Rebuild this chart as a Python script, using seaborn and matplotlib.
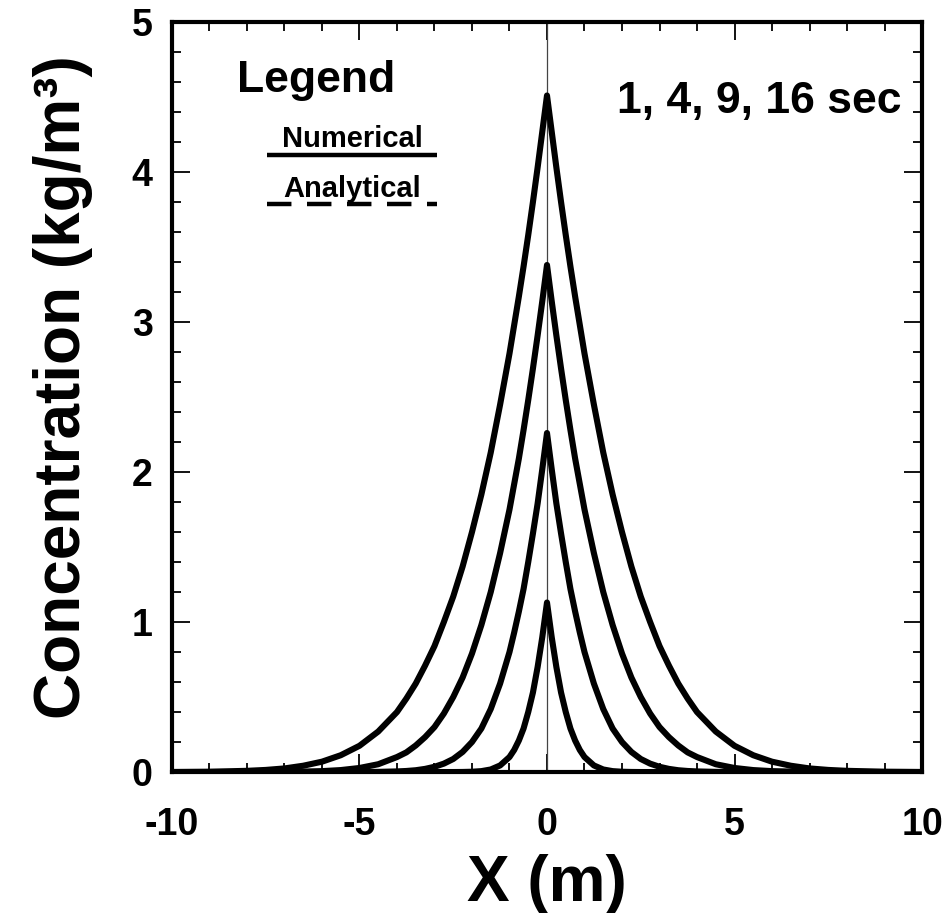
import numpy as np
import pandas as pd
import seaborn as sns
import matplotlib.pyplot as plt
from matplotlib.ticker import MultipleLocator

sns.set_style("ticks")
plt.rcParams["font.family"] = ["Liberation Sans", "DejaVu Sans"]
plt.rcParams["font.weight"] = "bold"
for key in ["text.color", "axes.labelcolor", "xtick.color", "ytick.color", "axes.edgecolor"]:
    plt.rcParams[key] = "black"

DPI = 100
FIGSIZE = (9.48, 9.13)

# half profiles (x >= 0), curves are symmetric about x = 0
x_half = [0, 0.125, 0.25, 0.375, 0.5, 0.625, 0.75, 0.875, 1, 1.25, 1.5, 1.75,
          2, 2.25, 2.5, 2.75, 3, 3.25, 3.5, 3.75, 4, 4.5, 5, 5.5, 6, 6.5, 7,
          7.5, 8, 9, 10]
c_t1 = [1.13, 0.90, 0.70, 0.53, 0.40, 0.29, 0.21, 0.147, 0.10, 0.044, 0.017, 0.006,
        0.002, 0.0005, 0, 0, 0, 0, 0, 0, 0, 0, 0, 0, 0, 0, 0,
        0, 0, 0, 0]
c_t4 = [2.26, 2.02, 1.79, 1.59, 1.40, 1.22, 1.07, 0.93, 0.80, 0.59, 0.42, 0.29,
        0.20, 0.134, 0.087, 0.056, 0.035, 0.021, 0.012, 0.007, 0.004, 0.001, 0, 0, 0, 0, 0,
        0, 0, 0, 0]
c_t9 = [3.38, 3.14, 2.91, 2.69, 2.48, 2.28, 2.09, 1.92, 1.75, 1.46, 1.20, 0.98,
        0.79, 0.63, 0.50, 0.39, 0.30, 0.233, 0.177, 0.131, 0.10, 0.052, 0.027, 0.013, 0.006, 0.003, 0.001,
        0, 0, 0, 0]
c_t16 = [4.51, 4.27, 4.03, 3.80, 3.58, 3.37, 3.17, 2.98, 2.79, 2.45, 2.13, 1.85,
         1.60, 1.37, 1.17, 1.00, 0.84, 0.71, 0.59, 0.49, 0.40, 0.27, 0.175, 0.112, 0.069, 0.042, 0.024,
         0.014, 0.008, 0.002, 0]
times = [1, 4, 9, 16]

rows = []
for t, c in zip(times, [c_t1, c_t4, c_t9, c_t16]):
    xs = [-v for v in x_half[::-1]] + x_half[1:]
    cs = c[::-1] + c[1:]
    for xv, cv in zip(xs, cs):
        rows.append({"x": xv, "conc": cv, "time": t})
df = pd.DataFrame(rows)

fig = plt.figure(figsize=FIGSIZE, dpi=DPI)
ax = fig.add_axes([0.1814, 0.1544, 0.7912, 0.8215])

ax.axvline(0, color="#444444", lw=0.9, zorder=1)
sns.lineplot(data=df, x="x", y="conc", units="time", estimator=None,
             color="black", lw=4.4, legend=False, ax=ax, zorder=3)

ax.set_xlim(-10, 10)
ax.set_ylim(0, 5)
ax.xaxis.set_major_locator(MultipleLocator(5))
ax.xaxis.set_minor_locator(MultipleLocator(1))
ax.yaxis.set_major_locator(MultipleLocator(1))
ax.yaxis.set_minor_locator(MultipleLocator(0.2))
ax.set_xticks([-10, -5, 0, 5, 10])
ax.set_xticklabels(["-10", "-5", "0", "5", "10"])
ax.tick_params(which="both", direction="in", top=True, right=True, width=1.3,
               labelsize=27)
ax.tick_params(which="major", length=13)
ax.tick_params(which="minor", length=6.5)
ax.tick_params(axis="x", which="major", pad=25)
ax.tick_params(axis="y", which="major", pad=14)
for lab in ax.get_xticklabels() + ax.get_yticklabels():
    lab.set_fontweight("bold")
for sp in ax.spines.values():
    sp.set_linewidth(3)

ax.set_xlabel("X (m)", fontsize=46, fontweight="bold", labelpad=8)
ax.set_ylabel("Concentration (kg/m³)", fontsize=46, fontweight="bold",
              labelpad=28, y=0.513)

# legend block
ax.text(0.087, 0.907, "Legend", transform=ax.transAxes, fontsize=32,
        fontweight="bold", va="baseline", ha="left")
ax.text(0.240, 0.833, "Numerical", transform=ax.transAxes, fontsize=21,
        fontweight="bold", va="baseline", ha="center")
ax.plot([0.127, 0.353], [0.8233, 0.8233], transform=ax.transAxes,
        color="black", lw=3.2, solid_capstyle="butt")
ax.text(0.240, 0.767, "Analytical", transform=ax.transAxes, fontsize=21,
        fontweight="bold", va="baseline", ha="center")
ax.plot([0.127, 0.353], [0.757, 0.757], transform=ax.transAxes,
        color="black", lw=3.2, ls=(0, (5.5, 3.5)), dash_capstyle="butt")

ax.text(0.973, 0.879, "1, 4, 9, 16 sec", transform=ax.transAxes, fontsize=32,
        fontweight="bold", va="baseline", ha="right")

fig.savefig("out.png", dpi=DPI)
